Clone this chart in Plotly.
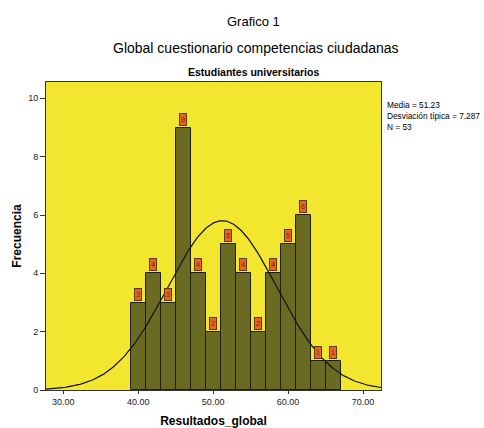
import numpy as np
import plotly.graph_objects as go

bin_centers = [40, 42, 44, 46, 48, 50, 52, 54, 56, 58, 60, 62, 64, 66]
counts = [3, 4, 3, 9, 4, 2, 5, 4, 2, 4, 5, 6, 1, 1]
bin_width = 2
mean_val = 51.23
sd_val = 7.287
n_val = 53
x_ticks = [30, 40, 50, 60, 70]
x_tick_labels = ["30.00", "40.00", "50.00", "60.00", "70.00"]
y_ticks = [0, 2, 4, 6, 8, 10]

W, H = 484, 428
ML, MR, MT, MB = 46, 103, 82, 38
PW, PH = W - ML - MR, H - MT - MB


def px_x(px):
    return (px - ML) / PW


def px_y(py):
    return (H - py - MB) / PH


fig = go.Figure()
fig.add_trace(go.Bar(
    x=bin_centers, y=counts, width=bin_width,
    marker=dict(color="#6b6a22", line=dict(color="#1e1e0a", width=1)),
    hoverinfo="x+y",
))

xs = np.linspace(27.7, 72.4, 300)
ys = n_val * bin_width * np.exp(-0.5 * ((xs - mean_val) / sd_val) ** 2) / (sd_val * np.sqrt(2 * np.pi))
fig.add_trace(go.Scatter(x=xs, y=ys, mode="lines", line=dict(color="#111111", width=1.2)))

for xc, c in zip(bin_centers, counts):
    fig.add_annotation(
        x=xc, y=c, xref="x", yref="y", text=str(c), showarrow=False,
        yanchor="bottom", yshift=2,
        font=dict(family="Liberation Sans, Arial", size=7, color="#7a2a08"),
        bgcolor="#e8641e", bordercolor="#5a3a10", borderwidth=1, borderpad=1,
        width=4, height=9,
    )

font_fam = "Liberation Sans, Arial, sans-serif"
annots = [
    dict(text="Grafico 1", x=253.5, y=21, size=13, bold=False),
    dict(text="Global cuestionario competencias ciudadanas", x=255.5, y=48, size=14, bold=False),
    dict(text="Estudiantes universitarios", x=253.5, y=72, size=10.5, bold=True),
]
for a in annots:
    fig.add_annotation(
        x=px_x(a["x"]), y=px_y(a["y"]), xref="paper", yref="paper",
        text=("<b>%s</b>" % a["text"]) if a["bold"] else a["text"],
        showarrow=False, xanchor="center", yanchor="middle",
        font=dict(family=font_fam, size=a["size"], color="#000000"),
    )

fig.add_annotation(
    x=px_x(385), y=px_y(98), xref="paper", yref="paper",
    text="Media = %.2f<br>Desviación típica = %.3f<br>N = %d" % (mean_val, sd_val, n_val),
    showarrow=False, xanchor="left", yanchor="top", align="left",
    font=dict(family=font_fam, size=8.3, color="#000000"),
)

fig.update_layout(
    width=W, height=H,
    margin=dict(l=ML, r=MR, t=MT, b=MB),
    paper_bgcolor="#ffffff", plot_bgcolor="#f3e62e",
    showlegend=False, bargap=0,
    font=dict(family=font_fam, size=10, color="#000000"),
    xaxis=dict(
        range=[27.7, 72.4], tickvals=x_ticks, ticktext=x_tick_labels,
        ticks="outside", ticklen=3, tickcolor="#333333", automargin=False,
        showgrid=False, zeroline=False, showline=True, linecolor="#333333", mirror=True,
        tickfont=dict(size=9, color="#222222"),
        title=dict(text="<b>Resultados_global</b>", font=dict(size=12), standoff=10),
    ),
    yaxis=dict(
        range=[0, 10.56], tickvals=y_ticks,
        ticks="outside", ticklen=5, tickcolor="#333333", automargin=False,
        showgrid=False, zeroline=False, showline=True, linecolor="#333333", mirror=True,
        tickfont=dict(size=9, color="#222222"),
        title=dict(text="<b>Frecuencia</b>", font=dict(size=12), standoff=3),
    ),
)

fig.write_html(
    "out.html",
    config={"displayModeBar": False},
    post_script="document.body.style.margin='0';document.body.style.overflow='hidden';",
)
